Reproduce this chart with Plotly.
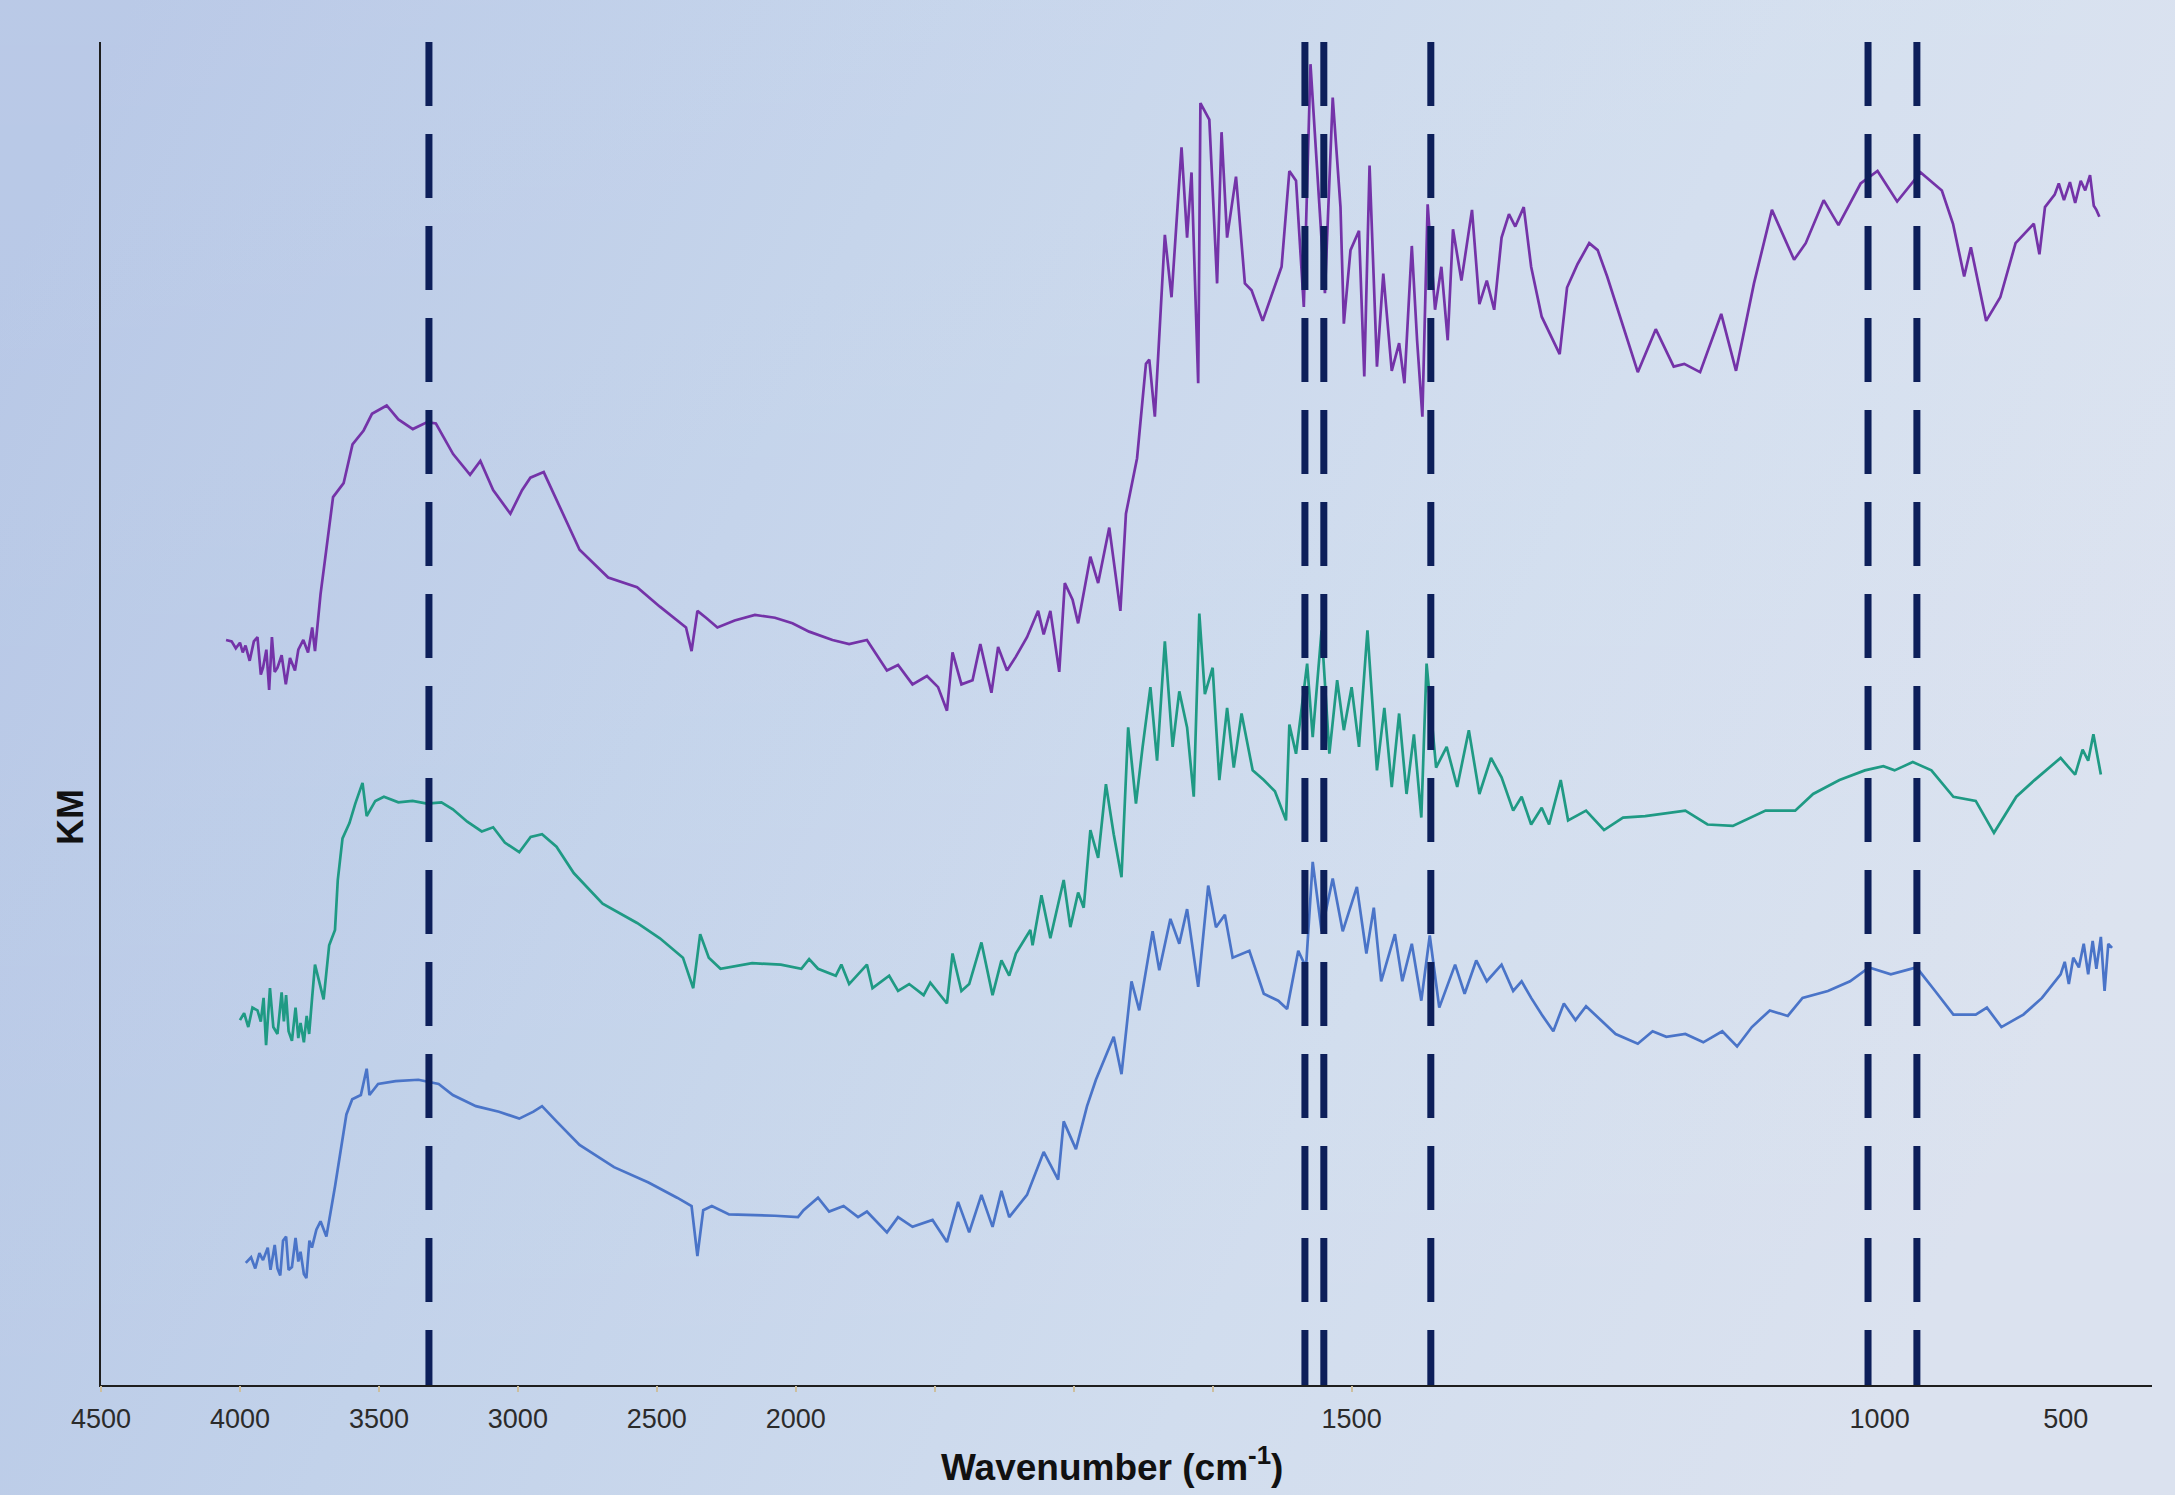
import base64
import numpy as np
import plotly.graph_objects as go

# ---------------- axis labelling (wavenumber, cm-1) ----------------
TICK_LABELS = ["4500", "4000", "3500", "3000", "2500", "2000", "1500", "1000", "500"]
TICK_WN = [4500, 4000, 3500, 3000, 2500, 2000, 1500, 1000, 500]
# position of each labelled wavenumber along the (non-linear) axis, in major-tick spacings
TICK_POS = [0, 1, 2, 3, 4, 5, 9, 12.8, 14.14]
MINOR_TICK_POS = [0, 1, 2, 3, 4, 5, 6, 7, 8, 9]
AXIS_END = 14.76
KM_TOP = 968

# marked bands (dashed lines), cm-1
DASH_WN = [3320, 1542, 1525, 1425, 1011, 900]

# ---------------- spectra: (wavenumber, KM a.u.) ----------------
PURPLE = [(4050,537),(4030,536),(4015,531),(4000,535),(3990,528),(3980,533),(3965,522),(3950,536),(3937,539),
(3925,512),(3917,517),(3905,530),(3895,501),(3885,539),(3875,514),(3865,517),(3850,526),(3835,505),(3820,524),
(3802,515),(3790,530),(3772,537),(3755,528),(3740,546),(3730,529),(3710,570),(3690,601),(3665,640),(3627,650),
(3595,678),(3555,688),(3525,700),
(3472,706),(3430,696),(3378,689),(3326,694),(3295,693),(3233,671),(3172,656),(3135,666),(3089,645),(3027,628),
(2985,645),(2955,654),(2907,658),(2850,633),(2778,602),(2675,582),(2571,575),(2489,561),(2427,551),(2395,546),
(2375,529),(2354,558),(2323,553),(2282,546),(2220,551),(2147,555),(2075,553),(2012,549),
(1988,543),(1967,537),(1952,534),(1936,537),(1918,515),(1908,519),(1895,505),(1882,511),(1872,503),(1864,486),
(1859,528),(1851,505),(1841,508),(1834,534),(1824,499),(1818,532),(1810,515),(1802,525),(1792,539),(1782,558),
(1777,541),(1771,558),(1763,514),(1758,578),(1751,566),(1746,549),(1735,597),(1728,578),(1718,618),(1708,558),
(1703,628),(1693,668),(1685,736),(1682,739),(1677,698),(1668,829),(1662,784),(1653,892),(1648,827),(1644,874),
(1638,722),(1636,924),(1628,912),(1621,794),(1617,903),(1612,827),(1604,871),(1596,794),(1590,789),(1580,767),
(1563,806),(1556,875),(1550,868),(1543,777),(1537,952),(1530,866),(1524,787),(1517,928),(1510,849),(1507,765),
(1501,818),(1493,832),(1488,727),(1483,879),(1476,734),(1470,801),(1462,731),(1455,751),(1450,722),(1443,821),
(1438,753),(1433,698),(1428,851),(1421,775),(1415,806),(1409,753),(1404,833),(1396,796),(1386,847),(1379,779),
(1372,796),(1365,775),(1358,827),(1351,844),(1345,835),(1337,849),(1330,806),(1320,770),(1303,743),(1296,791),
(1286,808),(1275,823),(1267,818),(1258,799),(1244,765),(1229,730),(1212,761),(1195,734),(1185,736),(1170,730),
(1150,772),(1136,731),(1119,794),(1102,847),(1081,811),(1070,823),(1053,854),(1039,836),(1018,866),(1002,875),
(953,853),(890,874),(833,861),(803,837),(773,799),(755,820),(714,767),(676,784),(635,823),(586,837),(571,815),
(556,849),(530,858),(519,866),(505,854),(489,867),(475,852),(460,868),(448,861),(435,872),(425,850),(418,847),(410,842)]

TEAL = [(4000,263),(3985,268),(3970,258),(3955,272),(3937,270),(3925,262),(3915,279),(3906,245),(3892,286),
(3880,258),(3865,253),(3850,283),(3842,262),(3834,281),(3825,255),(3813,248),(3800,272),(3790,250),(3782,261),
(3770,247),(3760,266),(3751,253),(3740,280),
(3730,303),(3699,278),(3679,317),(3658,328),(3648,364),(3631,394),(3606,405),(3585,419),(3559,434),(3544,410),
(3513,421),(3482,424),(3430,420),(3379,421),(3327,419),(3275,420),(3234,415),(3182,406),(3130,399),(3089,402),
(3047,391),(2995,384),(2954,395),(2913,397),(2861,388),(2799,369),(2695,347),(2571,333),(2489,322),(2406,308),
(2369,286),(2344,325),(2313,308),(2271,300),(2157,304),(2054,303),
(1995,300),(1988,307),(1980,300),(1964,295),(1959,303),(1952,289),(1936,303),(1931,286),(1916,295),(1908,284),
(1898,289),(1885,281),(1879,290),(1864,275),(1859,311),(1851,284),(1844,289),(1833,319),(1823,281),(1815,306),
(1808,295),(1802,311),(1789,328),(1787,317),(1779,353),(1771,322),(1766,339),(1759,364),(1753,330),(1746,355),
(1741,344),(1735,400),(1728,380),(1721,433),(1714,397),(1707,366),(1701,474),(1694,419),(1688,460),(1681,503),
(1675,450),(1668,536),(1661,460),(1655,500),(1648,474),(1642,424),(1637,556),(1632,498),(1625,517),(1619,436),
(1612,488),(1606,445),(1599,484),(1589,443),(1579,436),(1569,428),(1559,407),(1556,476),(1550,455),(1540,520),
(1535,467),(1527,544),(1520,455),(1513,508),(1507,472),(1500,503),
(1493,460),(1485,544),(1476,443),(1469,488),(1462,431),(1455,484),(1448,426),(1441,469),(1434,409),(1429,520),
(1420,445),(1410,460),(1400,431),(1389,472),(1379,426),(1368,452),(1358,438),(1347,414),(1339,424),(1330,404),
(1320,416),(1313,404),(1302,436),(1295,407),(1278,414),(1261,400),(1243,409),(1222,410),(1184,414),(1163,404),
(1139,403),(1108,414),(1080,414),(1063,426),(1038,436),(1014,443),
(990,446),(960,443),(911,449),(861,443),(802,424),(742,421),(693,398),(633,424),(584,436),(514,452),(495,446),
(475,440),(455,458),(440,450),(426,469),(415,452),(406,440)]

BLUE = [(3979,88),(3960,92),(3945,84),(3930,95),(3917,90),(3900,99),(3890,83),(3875,101),(3865,84),(3855,79),
(3845,104),(3834,107),(3825,83),(3813,85),(3800,106),(3790,89),(3782,96),(3770,80),(3761,77),(3750,104),
(3741,99),(3725,112),(3710,118),
(3689,107),(3658,143),(3637,168),(3617,195),(3596,206),(3565,209),(3544,228),(3534,209),(3503,217),(3440,219),
(3358,220),(3285,217),(3234,209),(3151,201),(3068,197),(2995,192),(2944,197),(2913,201),(2861,190),(2778,173),
(2654,157),(2530,146),(2427,135),(2375,129),(2354,93),(2333,126),(2302,129),(2240,123),(2075,122),
(1998,121),(1993,126),(1980,135),(1970,125),(1957,129),(1944,121),(1936,125),(1918,110),(1908,121),(1895,114),
(1877,119),(1864,103),(1854,132),(1844,110),(1833,137),(1823,114),(1815,140),(1808,121),(1792,137),(1777,168),
(1764,148),(1759,190),(1748,170),(1738,201),(1730,220),(1714,251),(1707,224),(1698,291),(1691,270),(1679,327),
(1673,299),(1663,336),(1655,318),(1648,343),(1638,287),(1629,360),(1622,330),(1614,339),(1607,308),(1592,313),
(1579,282),(1566,277),(1558,271),(1548,313),(1541,301),(1535,377),(1527,327),(1517,365),(1508,327),
(1495,359),(1486,311),(1479,344),(1472,291),(1459,325),(1452,291),(1443,318),(1434,277),(1426,324),(1417,272),
(1402,303),(1393,282),(1382,306),(1372,291),(1358,303),(1347,284),(1339,291),(1330,279),(1320,267),(1309,255),
(1299,275),(1288,263),(1278,273),(1267,265),(1250,253),(1229,246),(1215,255),(1202,251),(1184,253),(1167,247),
(1149,255),(1135,244),(1121,258),(1104,270),(1087,266),(1073,279),(1049,284),(1028,291),(1010,301),
(970,296),(901,301),(851,284),(802,267),(742,267),(712,272),(673,258),(614,267),(564,279),(514,296),(503,305),
(492,289),(480,308),(465,301),(452,318),(440,296),(428,320),(418,300),(406,323),(396,284),(386,318),(376,315)]

SERIES = [("Sample C", BLUE, "#4a74c8"), ("Sample B", TEAL, "#1f9a84"), ("Sample A", PURPLE, "#7433a8")]
DASH_COLOR = "#0d1f5a"


def to_axis(wn):
    """piecewise-linear wavenumber -> axis position (matches the chart's stretched scale)"""
    x = -np.asarray(wn, float)
    xp = -np.asarray(TICK_WN, float)
    fp = np.asarray(TICK_POS, float)
    out = np.interp(x, xp, fp)
    slope = (fp[-1] - fp[-2]) / (xp[-1] - xp[-2])
    hi = x > xp[-1]
    out[hi] = fp[-1] + (x[hi] - xp[-1]) * slope
    return out


fig = go.Figure()

for name, pts, color in SERIES:
    wn = [p[0] for p in pts]
    km = [p[1] for p in pts]
    fig.add_trace(go.Scatter(x=to_axis(wn), y=km, mode="lines", name=name,
                             line=dict(color=color, width=2.7), showlegend=False))

for w in DASH_WN:
    xv = float(to_axis([w])[0])
    fig.add_trace(go.Scatter(x=[xv, xv], y=[KM_TOP, 0], mode="lines", showlegend=False,
                             line=dict(color=DASH_COLOR, width=7, dash="64px,28px"), hoverinfo="skip"))

# invisible trace to carry the minor-tick axis
fig.add_trace(go.Scatter(x=[0], y=[0], xaxis="x2", mode="markers", marker=dict(opacity=0),
                         showlegend=False, hoverinfo="skip"))

W, H = 2175, 1495
L, R, T, B = 101, 23, 42, 110
pw, ph = W - L - R, H - T - B

svg = f'''<svg xmlns="http://www.w3.org/2000/svg" width="{W}" height="{H}" viewBox="0 0 {W} {H}" preserveAspectRatio="none">
<defs>
<linearGradient id="g" x1="0" y1="0.2" x2="1" y2="0.5">
<stop offset="0" stop-color="#b4c5e5"/>
<stop offset="0.35" stop-color="#c2d2ea"/>
<stop offset="0.7" stop-color="#d1ddee"/>
<stop offset="1" stop-color="#dbe2ef"/>
</linearGradient>
<linearGradient id="v" x1="0" y1="0" x2="0" y2="1">
<stop offset="0" stop-color="#ffffff" stop-opacity="0.08"/>
<stop offset="1" stop-color="#ffffff" stop-opacity="0"/>
</linearGradient>
</defs>
<rect width="{W}" height="{H}" fill="url(#g)"/>
<rect width="{W}" height="{H}" fill="url(#v)"/>
</svg>'''
bg_src = "data:image/svg+xml;base64," + base64.b64encode(svg.encode()).decode()

fig.update_layout(
    width=W, height=H,
    margin=dict(l=L, r=R, t=T, b=B),
    paper_bgcolor="#c6d4ea",
    plot_bgcolor="rgba(0,0,0,0)",
    images=[dict(source=bg_src, xref="paper", yref="paper", x=-L / pw, y=1 + T / ph,
                 sizex=W / pw, sizey=H / ph, xanchor="left", yanchor="top",
                 sizing="stretch", layer="below")],
    xaxis=dict(range=[0, AXIS_END], tickvals=TICK_POS, ticktext=TICK_LABELS, ticks="",
               showline=True, linecolor="#1e1e1e", linewidth=2, showgrid=False, zeroline=False,
               tickfont=dict(family="Liberation Sans, Arial, sans-serif", size=27, color="#2b2b2b"),
               ticklabelstandoff=9),
    xaxis2=dict(range=[0, AXIS_END], overlaying="x", anchor="y", side="bottom",
                tickvals=MINOR_TICK_POS, ticks="outside", ticklen=6, tickwidth=1.5,
                tickcolor="#cdbf9f", showticklabels=False, showline=False, showgrid=False,
                zeroline=False),
    yaxis=dict(range=[0, KM_TOP], showline=True, linecolor="#1e1e1e", linewidth=2,
               showticklabels=False, ticks="", showgrid=False, zeroline=False),
    annotations=[
        dict(text="<b>Wavenumber (cm<sup>-1</sup>)</b>", xref="paper", yref="paper",
             x=(1112 - L) / pw, y=-(1464 - (T + ph)) / ph, xanchor="center", yanchor="middle",
             showarrow=False, font=dict(family="Liberation Sans, Arial, sans-serif", size=37, color="#111111")),
        dict(text="<b>KM</b>", xref="paper", yref="paper", textangle=-90,
             x=(70 - L) / pw, y=(T + ph - 817) / ph, xanchor="center", yanchor="middle",
             showarrow=False, font=dict(family="Liberation Sans, Arial, sans-serif", size=36, color="#111111")),
    ],
)

fig.write_html("out.html", config={"displayModeBar": False},
               post_script="document.body.style.margin='0';document.body.style.padding='0';")
